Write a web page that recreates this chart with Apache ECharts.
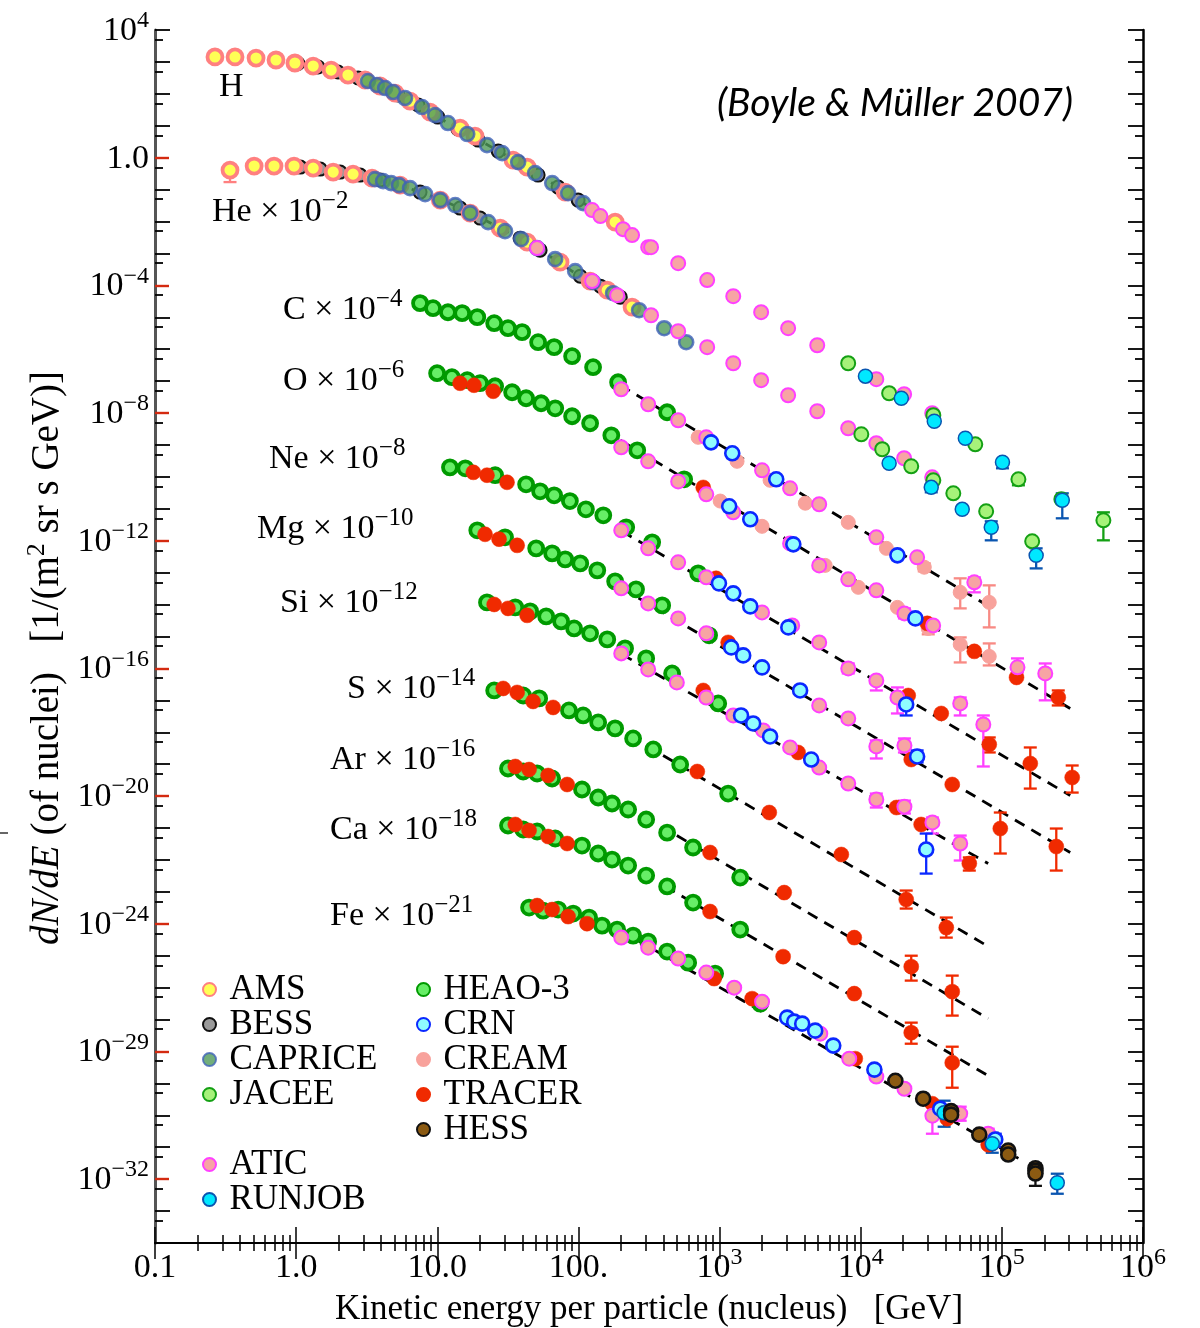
<!DOCTYPE html>
<html>
<head>
<meta charset="utf-8">
<title>Cosmic-ray nuclei energy spectra</title>
<script src="https://cdn.jsdelivr.net/npm/echarts@6/dist/echarts.min.js"></script>
<style>
  html, body { margin: 0; padding: 0; background: #ffffff; }
  #chart { width: 1200px; height: 1328px; }
</style>
</head>
<body>
<div id="chart"></div>
<script>
// ---------------------------------------------------------------------------
// Differential fluxes dN/dE [1/(m^2 sr s GeV)] vs kinetic energy per particle
// [GeV], each element scaled by the factor given in its label.
// Points are [E, flux] or [E, flux, lower, upper] when an error bar is drawn.
// ---------------------------------------------------------------------------

// --- H ---
const H_AMS = [[0.266,1430],[0.369,1430],[0.52,1320],[0.72,1150],[0.98,925],[1.32,743],[1.77,557],[2.33,388],[3.08,271],[3.93,176],[5.02,106],[6.41,59.4],[8.89,26.9],[14.5,8.47],[18.5,4.75],[34.4,0.841],[43.3,0.507],[80.5,0.0836],[182,0.00958]];
const H_BESS = [[1.03,891],[1.43,692],[1.98,482],[2.75,313],[3.80,189],[5.27,91.6],[7.31,44.6],[10.1,18.7],[14.0,7.88],[19.5,3.56],[27.0,1.61],[37.4,0.728],[51.8,0.285],[71.8,0.120],[99.5,0.0469]];
const H_CAPRICE = [[3.23,252],[3.74,189],[4.27,152],[4.86,114],[5.91,73.8],[7.80,38.5],[9.65,21.6],[11.9,12.2],[16.3,5.50],[22.5,2.48],[28.8,1.39],[37.4,0.728],[49.3,0.329],[65.2,0.160],[84.5,0.0776],[108,0.0378]];
const H_ATIC = [[125,0.0228],[143,0.0148],[207,5.78e-3],[240,3.75e-3],[312,1.57e-3],[327,1.57e-3],[509,4.97e-4],[817,1.46e-4],[1250,4.58e-5],[1970,1.45e-5],[3060,4.55e-6],[4920,1.33e-6],[1.29e4,1.15e-7],[2.03e4,3.88e-8],[3.21e4,9.86e-9]];
const H_JACEE = [[8150,3.64e-7],[1.59e4,4.18e-8],[3.27e4,8.53e-9],[6.48e4,1.05e-9],[1.31e5,8.41e-11,5.46e-11,8.41e-11],[2.64e5,1.99e-11],[5.24e5,4.36e-12,1.03e-12,7.76e-12]];
const H_RUNJOB = [[1.08e4,1.43e-7],[1.94e4,2.91e-8],[3.32e4,5.53e-9],[5.51e4,1.62e-9],[1.01e5,2.87e-10,1.86e-10,2.87e-10],[2.68e5,1.85e-11,5.04e-12,3.06e-11]];
const H_FIT = [[0.98,925],[1.77,557],[3.08,271],[5.91,73.8],[11.9,12.2],[28.8,1.39],[65.2,0.160],[143,0.0171]];

// --- He x 10^-2 ---
const He_AMS = [[0.340,0.408,0.172,0.408],[0.504,0.546],[0.697,0.546],[0.966,0.546],[1.32,0.472],[1.83,0.354],[2.53,0.306],[3.45,0.230],[5.45,0.138],[10.5,0.0469],[17.1,0.0183],[27.9,6.21e-3],[43.3,2.26e-3],[74.1,5.33e-4],[121,1.36e-4],[160,7.08e-5],[240,2.07e-5]];
const He_BESS = [[1.07,0.507],[1.48,0.439],[2.05,0.354],[2.84,0.285],[3.93,0.199],[5.45,0.138],[7.55,0.0836],[10.5,0.0469],[14.5,0.0263],[20.1,0.0128],[27.9,6.21e-3],[38.6,3.02e-3],[53.5,1.27e-3],[74.1,5.33e-4],[103,1.94e-4],[143,9.44e-5],[198,4.27e-5]];
const He_CAPRICE = [[3.62,0.213],[4.13,0.185],[4.71,0.160],[5.36,0.138],[6.41,0.111],[8.20,0.0723],[10.5,0.0469],[13.4,0.0327],[17.1,0.0183],[22.9,9.58e-3],[30.2,5.00e-3],[39.3,2.81e-3],[50.9,1.47e-3],[68.4,6.62e-4],[94.8,2.79e-4],[127,1.26e-4],[176,5.69e-5],[269,1.67e-5],[405,4.55e-6],[580,1.66e-6]];
const He_ATIC = [[50.9,1.47e-3],[125,1.36e-4],[188,4.93e-5],[327,1.16e-5],[509,3.66e-6],[817,1.16e-6],[1250,3.64e-7],[1970,1.07e-7],[3060,3.61e-8],[4920,1.14e-8],[8150,3.34e-9],[1.29e4,1.13e-9],[2.03e4,3.83e-10],[3.21e4,9.70e-11]];
const He_JACEE = [[1.01e4,2.16e-9],[1.42e4,7.33e-10],[2.28e4,2.15e-10],[3.27e4,7.82e-11],[4.53e4,3.06e-11],[7.74e4,8.36e-12],[1.64e5,9.57e-13]];
const He_RUNJOB = [[1.59e4,2.67e-10],[3.16e4,4.72e-11,3.29e-11,4.72e-11],[5.24e4,9.64e-12],[8.41e4,2.63e-12,1.03e-12,4.06e-12],[1.75e5,3.48e-13,1.36e-13,5.78e-13]];
const He_FIT = [[1.07,0.507],[2.05,0.354],[3.93,0.199],[7.55,0.0836],[14.5,0.0263],[27.9,6.21e-3],[53.5,1.27e-3],[103,1.94e-4],[198,4.27e-5],[379,7.02e-6]];

// --- C x 10^-4 ---
const C_HEAO = [[7.55,2.77e-5],[9.33,1.93e-5],[11.9,1.44e-5],[15.0,1.35e-5],[19.2,1.01e-5],[25.3,6.54e-6],[31.7,4.55e-6],[39.9,3.42e-6],[51.8,1.66e-6],[67.3,1.16e-6],[90.2,6.03e-7],[127,2.73e-7],[191,9.23e-8],[425,1.06e-8]];
const C_ATIC = [[201,5.58e-8],[312,1.89e-8],[509,5.95e-9],[805,1.74e-9],[2.00e3,1.61e-10],[3.16e3,4.39e-11],[5.08e3,1.39e-11],[1.29e4,1.28e-12],[2.51e4,3.02e-13],[6.38e4,4.97e-14,2.42e-14,7.12e-14]];
const C_CREAM = [[705,1.74e-9],[1.33e3,3.08e-10],[2.28e3,7.83e-11],[4.05e3,1.50e-11],[8.16e3,3.77e-12],[1.52e4,5.77e-13],[2.82e4,1.48e-13,1.10e-13,1.95e-13],[5.07e4,2.42e-14,7.60e-15,6.64e-14],[8.14e4,1.17e-14,1.93e-15,4.00e-14]];
const C_CRN = [[870,1.21e-9],[1.23e3,5.50e-10],[2.52e3,8.40e-11],[1.82e4,3.49e-13]];
const C_FIT = [[198,7.44e-8],[8.55e4,7.60e-15]];

// --- O x 10^-6 ---
const O_HEAO = [[9.97,1.77e-7],[12.7,1.33e-7],[16.3,1.07e-7],[20.1,8.60e-8],[25.7,6.92e-8],[33.9,4.49e-8],[42.6,2.91e-8],[54.4,2.03e-8],[68.5,1.41e-8],[90.2,7.93e-9],[121,4.79e-9],[171,2.01e-9],[261,6.80e-10],[561,8.40e-11]];
const O_TRACER = [[14.5,8.60e-8],[18.2,7.44e-8],[24.9,4.82e-8],[766,4.68e-11],[2.96e4,2.58e-15],[6.38e4,3.42e-16],[1.27e5,5.22e-17],[2.51e5,1.23e-17,6.92e-18,2.04e-17]];
const O_ATIC = [[201,8.48e-10],[312,3.08e-10],[509,7.23e-11],[805,2.85e-11],[1.25e3,7.77e-12],[3.16e3,8.26e-13],[5.08e3,1.69e-13],[8.16e3,6.17e-14],[1.29e4,2.79e-14],[2.04e4,5.30e-15,3.69e-15,7.60e-15],[3.26e4,2.23e-15],[1.29e5,1.08e-16,7.49e-17,2.06e-16],[2.03e5,6.97e-17,1.0e-17,1.43e-16]];
const O_CREAM = [[1.01e3,1.75e-11],[2.00e3,2.83e-12],[5.60e3,1.69e-13],[9.62e3,3.47e-14],[1.82e4,8.17e-15],[3.01e4,1.79e-15,1.17e-15,3.19e-15],[5.07e4,5.65e-16,1.54e-16,9.36e-16],[8.14e4,2.38e-16,1.24e-16,6.07e-16]];
const O_CRN = [[1.17e3,1.20e-11],[1.65e3,4.69e-12],[3.33e3,7.71e-13],[2.44e4,3.69e-15]];
const O_FIT = [[198,1.40e-9],[3.05e5,5.58e-18]];

// --- Ne x 10^-8 ---
const Ne_HEAO = [[12.3,1.99e-10],[15.8,1.86e-10],[25.7,1.13e-10],[42.6,5.86e-11],[53.5,3.54e-11],[67.3,2.65e-11],[87.0,1.75e-11],[113,9.64e-12],[150,6.25e-12],[218,2.63e-12],[333,8.91e-13],[705,9.50e-14]];
const Ne_TRACER = [[18.0,1.39e-10],[22.5,1.13e-10],[31.2,6.77e-11],[944,6.64e-14],[2.17e4,1.42e-17],[3.72e4,3.88e-18],[8.14e4,4.15e-19,2.33e-19,6.88e-19],[1.59e5,1.05e-19,1.72e-20,3.34e-19],[3.15e5,3.83e-20,1.29e-20,9.10e-20]];
const Ne_ATIC = [[201,2.12e-12],[312,5.77e-13],[509,2.11e-13],[805,7.12e-14],[2.00e3,5.68e-15],[3.27e3,2.23e-15],[5.08e3,6.54e-16],[8.16e3,1.0e-16,6.97e-17,1.43e-16],[1.29e4,4.21e-17,2.04e-17,5.22e-17],[1.82e4,1.23e-17,3.88e-18,2.54e-17],[5.07e4,8.00e-18,3.36e-18,1.23e-17],[7.39e4,1.75e-18,8.48e-20,3.36e-18]];
const Ne_CRN = [[990,4.62e-14],[1.25e3,2.25e-14],[1.65e3,8.77e-15],[3.07e3,1.93e-15],[2.10e4,7.44e-18,3.36e-18,1.42e-17]];
const Ne_FIT = [[204,1.97e-12],[3.05e5,1.04e-20]];

// --- Mg x 10^-10 ---
const Mg_HEAO = [[19.2,2.12e-12],[30.2,1.28e-12],[50.2,5.77e-13],[65.1,4.03e-13],[80.6,2.61e-13],[103,1.95e-13],[136,1.18e-13],[182,5.34e-14],[256,3.00e-14],[392,9.44e-15],[843,1.09e-15]];
const Mg_TRACER = [[21.8,1.59e-12],[27.4,1.12e-12],[36.8,7.17e-13],[1.15e3,6.54e-16],[2.28e4,1.40e-19],[4.45e4,2.31e-20],[9.75e4,9.64e-22,1.59e-22,3.06e-21],[2.43e5,2.63e-22,4.65e-23,9.64e-22]];
const Mg_ATIC = [[201,3.22e-14],[312,1.09e-14],[509,3.69e-15],[805,1.26e-15],[5.08e3,6.92e-18],[8.16e3,2.71e-18],[1.29e4,3.59e-19,1.51e-19,5.53e-19],[2.04e4,3.86e-19,2.33e-19,6.40e-19]];
const Mg_CRN = [[1.21e3,4.55e-16],[1.47e3,2.56e-16],[2.00e3,1.08e-16],[3.72e3,2.04e-17],[2.51e4,1.74e-19,1.13e-19,2.70e-19]];
const Mg_FIT = [[204,3.22e-14],[3.05e5,1.71e-22]];

// --- Si x 10^-12 ---
const Si_HEAO = [[22.5,1.17e-14],[35.7,8.17e-15],[45.5,6.12e-15],[59.1,4.27e-15],[75.4,2.97e-15],[93.2,1.79e-15],[121,1.26e-15],[160,8.11e-16],[214,4.24e-16],[302,2.06e-16],[461,6.97e-17],[978,8.00e-18]];
const Si_TRACER = [[25.3,1.01e-14],[31.7,7.60e-15],[43.3,4.60e-15],[766,2.04e-17],[3.60e3,2.33e-19],[1.79e4,4.39e-21],[2.68e4,1.29e-21],[5.88e4,7.71e-23,4.65e-23,1.20e-22]];
const Si_ATIC = [[201,2.96e-16],[312,9.30e-17],[498,3.64e-17],[805,1.23e-17],[1.25e3,3.36e-18],[2.04e3,1.14e-18],[3.16e3,3.34e-19],[5.08e3,7.85e-20],[8.16e3,2.48e-20],[1.29e4,7.83e-21,4.39e-21,1.20e-20],[2.04e4,4.68e-21,2.85e-21,7.23e-21],[3.22e4,1.50e-21,6.72e-22,2.13e-21],[5.07e4,3.27e-22,9.6e-23,5.81e-22]];
const Si_CRN = [[1.42e3,3.36e-18],[1.73e3,1.89e-18],[2.28e3,7.38e-19],[4.46e3,1.40e-19],[2.91e4,2.12e-22,3.74e-23,6.72e-22]];
const Si_FIT = [[204,2.75e-16],[8.0e4,7.71e-23]];

// --- S x 10^-14 ---
const S_HEAO = [[25.3,2.04e-17],[40.6,1.42e-17],[52.7,1.15e-17],[85.7,4.82e-18],[108,3.36e-18],[138,2.03e-18],[182,1.32e-18],[244,6.40e-19],[339,2.89e-19],[526,9.78e-20],[1.15e3,1.20e-20]];
const S_TRACER = [[29.3,2.36e-17],[36.8,1.77e-17],[47.7,9.23e-18],[66.2,5.99e-18],[695,5.90e-20],[2.25e3,3.06e-21],[7.29e3,1.48e-22],[2.10e4,5.75e-24,3.00e-24,1.10e-23],[4.04e4,7.60e-25,3.69e-25,1.57e-24]];
const S_FIT = [[398,1.88e-19],[8.28e4,1.79e-25]];

// --- Ar x 10^-16 ---
const Ar_HEAO = [[31.7,7.32e-20],[40.6,5.90e-20],[51.0,5.10e-20],[65.1,3.56e-20],[106,1.61e-20],[138,9.04e-21],[173,5.86e-21],[225,3.80e-21],[302,1.85e-21],[425,7.17e-22],[649,2.45e-22],[1.40e3,2.81e-23]];
const Ar_TRACER = [[35.7,8.48e-20],[44.7,6.80e-20],[61.0,4.42e-20],[83.2,2.31e-20],[856,1.71e-22],[2.87e3,9.50e-24],[9.00e3,3.69e-25],[2.28e4,4.55e-26,1.66e-26,1.0e-25],[4.45e4,7.49e-27,1.33e-27,2.38e-26]];
const Ar_FIT = [[498,5.81e-22],[8.0e4,1.07e-27]];

// --- Ca x 10^-18 ---
const Ca_HEAO = [[31.7,1.20e-21],[40.6,8.98e-22],[51.0,7.77e-22],[68.5,4.69e-22],[106,2.83e-22],[138,1.59e-22],[173,1.03e-22],[225,6.68e-23],[302,3.24e-23],[425,1.48e-23],[649,4.62e-24],[1.40e3,6.59e-25]];
const Ca_TRACER = [[35.7,1.29e-21],[44.7,8.36e-22],[61.0,5.41e-22],[83.2,3.27e-22],[856,2.42e-24],[2.82e3,9.36e-26],[9.00e3,6.49e-27],[2.28e4,3.88e-28,1.75e-28,8.00e-28],[4.45e4,4.45e-29,7.32e-30,1.41e-28]];
const Ca_FIT = [[412,1.48e-23],[8.0e4,1.74e-29]];

// --- Fe x 10^-21 ---
const Fe_HEAO = [[44.7,3.22e-24],[56.2,2.59e-24],[71.9,2.79e-24],[91.8,2.09e-24],[119,1.57e-24],[147,8.77e-25],[188,6.59e-25],[244,4.27e-25],[312,2.77e-25],[425,1.35e-25],[599,6.07e-26],[930,2.75e-26],[1.94e3,3.15e-27]];
const Fe_TRACER = [[51.0,3.72e-24],[65.1,2.79e-24],[84.5,1.68e-24],[115,1.01e-24],[915,1.92e-26],[1.70e3,4.52e-27],[9.15e3,5.95e-29],[3.22e4,2.31e-30],[4.10e4,7.83e-31],[8.0e4,1.20e-31]];
const Fe_ATIC = [[201,3.69e-25],[312,1.79e-25],[509,8.11e-26],[805,2.96e-26],[1.27e3,1.0e-26],[2.00e3,3.64e-27],[5.17e3,3.62e-28],[8.29e3,5.95e-29],[1.29e4,1.63e-29],[2.04e4,6.80e-30],[3.22e4,9.72e-31,2.65e-31,1.86e-30],[5.07e4,1.13e-30,6.77e-31,1.86e-30],[8.0e4,2.65e-31,1.60e-31,3.80e-31]];
const Fe_CRN = [[3.01e3,1.15e-27],[3.38e3,8.60e-28],[3.85e3,7.44e-28],[4.76e3,4.49e-28],[6.39e3,1.53e-28],[1.25e4,2.70e-29],[3.66e4,1.61e-30],[8.98e4,1.75e-31,1.03e-31,2.65e-31]];
const Fe_HESS = [[1.76e4,1.21e-29],[2.77e4,3.32e-30],[4.37e4,1.35e-30],[4.37e4,1.05e-30,7.83e-31,1.86e-30],[6.92e4,2.48e-31],[1.11e5,7.9e-32],[1.11e5,5.9e-32],[1.73e5,2.2e-32],[1.73e5,1.84e-32,6.17e-33,3.04e-32],[1.73e5,1.5e-32]];
const Fe_RUNJOB = [[3.90e4,1.20e-30,4.39e-31,2.87e-30],[8.55e4,1.29e-31,6.72e-32,2.85e-31],[2.47e5,7.71e-33,3.49e-33,1.48e-32]];
const Fe_FIT = [[198,6.18e-25],[1.31e5,4.47e-32]];

// --- axis tick labels ---
const xTickValues = [0.1, 1, 10, 100, 1e3, 1e4, 1e5, 1e6];
const xTickLabels = ['0.1', '1.0', '10.0', '100.', '10^3', '10^4', '10^5', '10^6'];
const yTickValues = [1e4, 1, 1e-4, 1e-8, 1e-12, 1e-16, 1e-20, 1e-24, 1e-28, 1e-32];
const yTickLabels = ['10^4', '1.0', '10^\u22124', '10^\u22128', '10^\u221212', '10^\u221216', '10^\u221220', '10^\u221224', '10^\u221229', '10^\u221232'];

// --- element labels (name, scale exponent) ---
const elementNames = ['H', 'He', 'C', 'O', 'Ne', 'Mg', 'Si', 'S', 'Ar', 'Ca', 'Fe'];
const elementScales = ['', '\u22122', '\u22124', '\u22126', '\u22128', '\u221210', '\u221212', '\u221214', '\u221216', '\u221218', '\u221221'];

// ---------------------------------------------------------------------------
const SERIF = "'Liberation Serif', 'Times New Roman', serif";

// marker looks per experiment
const LOOK = {
  'AMS':     { size: 15, fill: '#ffff55', border: '#ff8080', bw: 3.8, bar: '#ff8080', op: 1 },
  'BESS':    { size: 13, fill: '#9a9a9a', border: '#111111', bw: 2,   bar: '#111111', op: 1 },
  'CAPRICE': { size: 14, fill: '#4f9a5a', border: '#3f62b8', bw: 2.6, bar: '#3f62b8', op: 0.8 },
  'JACEE':   { size: 14, fill: '#a6f27a', border: '#14a014', bw: 2,   bar: '#14a014', op: 1 },
  'ATIC':    { size: 14, fill: '#f7a4a4', border: '#ff40ff', bw: 2,   bar: '#ff40ff', op: 1 },
  'RUNJOB':  { size: 14, fill: '#00e8ff', border: '#0a55b0', bw: 1.5, bar: '#0a55b0', op: 1 },
  'HEAO-3':  { size: 14, fill: '#66ee66', border: '#009a00', bw: 3.8, bar: '#009a00', op: 1 },
  'CRN':     { size: 14, fill: '#8ffcff', border: '#0a28ff', bw: 2.6, bar: '#0a28ff', op: 1 },
  'CREAM':   { size: 14, fill: '#f8a29c', border: '#f8a29c', bw: 1,   bar: '#f88a84', op: 1 },
  'TRACER':  { size: 15, fill: '#f02a00', border: '#f02a00', bw: 0.5, bar: '#f02a00', op: 1 },
  'HESS':    { size: 14, fill: '#8b5a12', border: '#111111', bw: 2.6, bar: '#111111', op: 1 }
};

// drawing order: later experiments sit on top
const EXPERIMENTS = [
  ['BESS',    [H_BESS, He_BESS]],
  ['AMS',     [H_AMS, He_AMS]],
  ['CAPRICE', [H_CAPRICE, He_CAPRICE]],
  ['HEAO-3',  [C_HEAO, O_HEAO, Ne_HEAO, Mg_HEAO, Si_HEAO, S_HEAO, Ar_HEAO, Ca_HEAO, Fe_HEAO]],
  ['CREAM',   [C_CREAM, O_CREAM]],
  ['TRACER',  [O_TRACER, Ne_TRACER, Mg_TRACER, Si_TRACER, S_TRACER, Ar_TRACER, Ca_TRACER, Fe_TRACER]],
  ['ATIC',    [H_ATIC, He_ATIC, C_ATIC, O_ATIC, Ne_ATIC, Mg_ATIC, Si_ATIC, Fe_ATIC]],
  ['CRN',     [C_CRN, O_CRN, Ne_CRN, Mg_CRN, Si_CRN, Fe_CRN]],
  ['JACEE',   [H_JACEE, He_JACEE]],
  ['RUNJOB',  [H_RUNJOB, He_RUNJOB, Fe_RUNJOB]],
  ['HESS',    [Fe_HESS]]
];

const FITS = [
  [H_FIT, true], [He_FIT, true], [C_FIT, false], [O_FIT, false], [Ne_FIT, false],
  [Mg_FIT, false], [Si_FIT, false], [S_FIT, false], [Ar_FIT, false], [Ca_FIT, false], [Fe_FIT, false]
];

// ---------------------------------------------------------------------------
const series = [];

FITS.forEach(([pts, curved]) => {
  series.push({
    type: 'line', name: 'fit', data: pts, symbol: 'none', smooth: curved ? 0.35 : false,
    silent: true, z: 1, xAxisIndex: 0, yAxisIndex: 0,
    lineStyle: { color: '#000000', width: 2.8, type: [11, 8] }
  });
});

EXPERIMENTS.forEach(([name, groups]) => {
  const look = LOOK[name];
  const all = [].concat(...groups);
  const withBars = all.filter(p => p.length > 3);
  if (withBars.length) {
    series.push({
      type: 'custom', name: name + ' errors', data: withBars, z: 2, silent: true,
      xAxisIndex: 0, yAxisIndex: 0, encode: { x: 0, y: 1 },
      renderItem: (params, api) => {
        const e = api.value(0);
        const top = api.coord([e, api.value(3)]);
        const bot = api.coord([e, api.value(2)]);
        const w = 6.5;
        const st = { stroke: look.bar, lineWidth: 2.3 };
        return {
          type: 'group',
          children: [
            { type: 'line', shape: { x1: top[0], y1: top[1], x2: bot[0], y2: bot[1] }, style: st },
            { type: 'line', shape: { x1: top[0] - w, y1: top[1], x2: top[0] + w, y2: top[1] }, style: st },
            { type: 'line', shape: { x1: bot[0] - w, y1: bot[1], x2: bot[0] + w, y2: bot[1] }, style: st }
          ]
        };
      }
    });
  }
  series.push({
    type: 'scatter', name: name, data: all.map(p => [p[0], p[1]]),
    symbol: 'circle', symbolSize: look.size, z: 3, xAxisIndex: 0, yAxisIndex: 0,
    itemStyle: { color: look.fill, borderColor: look.border, borderWidth: look.bw, opacity: look.op },
    emphasis: { disabled: true }
  });
});

// ---------------------------------------------------------------------------
// tick positions on the log axes
const xMinorTicks = [];
for (let e = -1; e < 6; e++) for (let m = 2; m <= 9; m++) xMinorTicks.push(m * Math.pow(10, e));
const yAllDecades = [];
for (let e = -34; e <= 4; e++) yAllDecades.push(Math.pow(10, e));
const yRedTicks = yTickValues.filter(v => v < 1e3);
const yBlackTicks = yAllDecades.filter(v => !yRedTicks.some(r => Math.abs(Math.log10(r) - Math.log10(v)) < 1e-6));
const yHalfTicks = [];
for (let e = -34; e <= 3; e++) yHalfTicks.push(5 * Math.pow(10, e));

function supText(s) {
  const parts = s.split('^');
  return parts.length > 1 ? '{b|' + parts[0] + '}{s|' + parts[1] + '}' : '{b|' + parts[0] + '}';
}
function findLabel(values, labels, v) {
  const lv = Math.log10(v);
  for (let i = 0; i < values.length; i++) {
    if (Math.abs(Math.log10(values[i]) - lv) < 1e-6) return supText(labels[i]);
  }
  return '';
}
const tickRich = {
  b: { fontFamily: SERIF, fontSize: 34, color: '#000', lineHeight: 36, verticalAlign: 'bottom' },
  s: { fontFamily: SERIF, fontSize: 24, color: '#000', lineHeight: 24, verticalAlign: 'bottom', padding: [0, 0, 15, 0] }
};

const X_RANGE = { type: 'log', logBase: 10, min: 0.1, max: 1e6 };
const Y_RANGE = { type: 'log', logBase: 10, min: 1e-34, max: 1e4 };
const noSplit = { splitLine: { show: false }, minorTick: { show: false }, minorSplitLine: { show: false } };

const xAxes = [
  Object.assign({}, X_RANGE, noSplit, {
    position: 'bottom',
    axisLine: { show: true, lineStyle: { color: '#000', width: 2 } },
    axisTick: { show: true, inside: true, length: 16, lineStyle: { color: '#000', width: 1.5 }, customValues: xTickValues },
    axisLabel: { show: true, customValues: xTickValues, margin: 6, formatter: v => findLabel(xTickValues, xTickLabels, v), rich: tickRich },
    name: 'Kinetic energy per particle (nucleus)   [GeV]',
    nameLocation: 'middle', nameGap: 49,
    nameTextStyle: { fontFamily: SERIF, fontSize: 35, color: '#000' }
  }),
  Object.assign({}, X_RANGE, noSplit, {
    position: 'bottom', axisLine: { show: false },
    axisTick: { show: true, inside: true, length: 8, lineStyle: { color: '#000', width: 1.5 }, customValues: xMinorTicks },
    axisLabel: { show: false }
  }),
  Object.assign({}, X_RANGE, noSplit, {
    position: 'top',
    axisLine: { show: true, lineStyle: { color: '#000', width: 2 } },
    axisTick: { show: true, inside: true, length: 16, lineStyle: { color: '#000', width: 1.5 }, customValues: xTickValues },
    axisLabel: { show: false }
  }),
  Object.assign({}, X_RANGE, noSplit, {
    position: 'top', axisLine: { show: false },
    axisTick: { show: true, inside: true, length: 8, lineStyle: { color: '#000', width: 1.5 }, customValues: xMinorTicks },
    axisLabel: { show: false }
  })
];

const yAxes = [
  Object.assign({}, Y_RANGE, noSplit, {
    position: 'left',
    axisLine: { show: true, lineStyle: { color: '#555', width: 3 } },
    axisTick: { show: true, inside: true, length: 15, lineStyle: { color: '#000', width: 1.8 }, customValues: yBlackTicks },
    axisLabel: { show: true, customValues: yTickValues, margin: 6, formatter: v => findLabel(yTickValues, yTickLabels, v), rich: tickRich }
  }),
  Object.assign({}, Y_RANGE, noSplit, {
    position: 'left', axisLine: { show: false },
    axisTick: { show: true, inside: true, length: 14, lineStyle: { color: '#d42a10', width: 2.4 }, customValues: yRedTicks },
    axisLabel: { show: false }
  }),
  Object.assign({}, Y_RANGE, noSplit, {
    position: 'left', axisLine: { show: false },
    axisTick: { show: true, inside: true, length: 8, lineStyle: { color: '#000', width: 1.8 }, customValues: yHalfTicks },
    axisLabel: { show: false }
  }),
  Object.assign({}, Y_RANGE, noSplit, {
    position: 'right',
    axisLine: { show: true, lineStyle: { color: '#000', width: 2.5 } },
    axisTick: { show: true, inside: true, length: 15, lineStyle: { color: '#000', width: 1.8 }, customValues: yAllDecades },
    axisLabel: { show: false }
  }),
  Object.assign({}, Y_RANGE, noSplit, {
    position: 'right', axisLine: { show: false },
    axisTick: { show: true, inside: true, length: 8, lineStyle: { color: '#000', width: 1.8 }, customValues: yHalfTicks },
    axisLabel: { show: false }
  })
];

// ---------------------------------------------------------------------------
// text annotations
const labelAnchors = [
  [219, 86], [212, 211], [283, 309], [283, 380], [269, 458], [257, 528],
  [280, 602], [347, 688], [330, 759], [330, 829], [330, 915]
];
const labelRich = {
  b: { fontFamily: SERIF, fontSize: 34, color: '#000', lineHeight: 36, verticalAlign: 'bottom' },
  s: { fontFamily: SERIF, fontSize: 25, color: '#000', lineHeight: 25, verticalAlign: 'bottom', padding: [0, 0, 15, 0] }
};
const graphics = elementNames.map((nm, i) => {
  const txt = elementScales[i] ? '{b|' + nm + ' \u00d7 10}{s|' + elementScales[i] + '}' : '{b|' + nm + '}';
  return {
    type: 'text', x: labelAnchors[i][0], y: labelAnchors[i][1], silent: true, z: 10,
    style: { text: txt, rich: labelRich, align: 'left', verticalAlign: 'middle' }
  };
});
graphics.push({
  type: 'text', x: 1073, y: 103, silent: true, z: 10,
  style: { text: '(Boyle & M\u00fcller 2007)', font: 'italic 39px Lato', fill: '#000', align: 'right', verticalAlign: 'middle' }
});
graphics.push({
  type: 'text', x: 47, y: 658, rotation: Math.PI / 2, silent: true, z: 10,
  style: {
    text: '{i|dN/dE}{n| (of nuclei)   [1/(m}{s|2}{n| sr s GeV)]}',
    align: 'center', verticalAlign: 'middle',
    rich: {
      i: { fontFamily: SERIF, fontStyle: 'italic', fontSize: 39, color: '#000', lineHeight: 40, verticalAlign: 'bottom' },
      n: { fontFamily: SERIF, fontSize: 39, color: '#000', lineHeight: 40, verticalAlign: 'bottom' },
      s: { fontFamily: SERIF, fontSize: 26, color: '#000', lineHeight: 26, verticalAlign: 'bottom', padding: [0, 0, 17, 0] }
    }
  }
});
graphics.push({
  type: 'line', silent: true, shape: { x1: 0, y1: 833, x2: 8, y2: 833 }, style: { stroke: '#333', lineWidth: 1.5 }
});

// ---------------------------------------------------------------------------
const legendText = { fontFamily: SERIF, fontSize: 35, color: '#000', lineHeight: 35 };
const legendBase = {
  orient: 'vertical', itemWidth: 30, itemHeight: 13, itemGap: 0, padding: 0,
  icon: 'circle', selectedMode: false, textStyle: legendText
};

const option = {
  animation: false,
  backgroundColor: '#ffffff',
  grid: { left: 155, right: 57, top: 30, bottom: 85, containLabel: false, outerBoundsMode: 'none' },
  xAxis: xAxes,
  yAxis: yAxes,
  legend: [
    Object.assign({}, legendBase, { data: ['AMS', 'BESS', 'CAPRICE', 'JACEE'], left: 202, top: 972 }),
    Object.assign({}, legendBase, { data: ['ATIC', 'RUNJOB'], left: 202, top: 1147 }),
    Object.assign({}, legendBase, { data: ['HEAO-3', 'CRN', 'CREAM', 'TRACER', 'HESS'], left: 416, top: 972 })
  ],
  graphic: graphics,
  series: series
};

const chart = echarts.init(document.getElementById('chart'), null, { renderer: 'canvas' });
chart.setOption(option);
</script>
</body>
</html>
